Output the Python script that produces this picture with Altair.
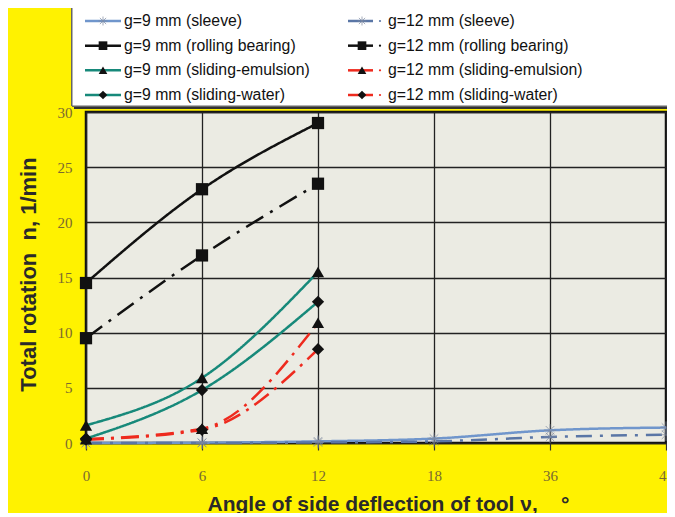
import altair as alt
import pandas as pd

# ---------------- data ----------------
angles = ["0", "6", "12", "18", "36", "45"]

series_names = [
    "g=9 mm (sleeve)", "g=12 mm (sleeve)",
    "g=9 mm (rolling bearing)", "g=12 mm (rolling bearing)",
    "g=9 mm (sliding-emulsion)", "g=12 mm (sliding-emulsion)",
    "g=9 mm (sliding-water)", "g=12 mm (sliding-water)",
]

sleeve_9 = [0.0, 0.03, 0.15, 0.4, 1.15, 1.4]
sleeve_12 = [0.0, 0.0, 0.05, 0.15, 0.55, 0.75]
rolling_9 = [14.5, 23.0, 29.0]
rolling_12 = [9.5, 17.0, 23.5]
emulsion_9 = [1.6, 5.9, 15.5]
emulsion_12 = [0.35, 1.3, 10.9]
water_9 = [0.4, 4.8, 12.8]
water_12 = [0.3, 1.2, 8.5]

values = [sleeve_9, sleeve_12, rolling_9, rolling_12,
          emulsion_9, emulsion_12, water_9, water_12]

rows = []
for name, vals in zip(series_names, values):
    for i, v in enumerate(vals):
        rows.append({"series": name, "angle": angles[i], "idx": i, "value": v})
df = pd.DataFrame(rows)

leg_df = pd.DataFrame({
    "series": series_names,
    "col": [i % 2 for i in range(len(series_names))],
    "row": [i // 2 for i in range(len(series_names))],
})

# ---------------- styles ----------------
BLUE9 = "#7096cc"
BLUE12 = "#5a76a6"
BLACK = "#111111"
TEAL = "#17897a"
RED = "#ee2a1e"
colors = [BLUE9, BLUE12, BLACK, BLACK, TEAL, RED, TEAL, RED]
SOLID = [1, 0]
dashes = [SOLID, [16, 8, 3, 8], SOLID, [20, 8, 3, 8],
          SOLID, [18, 7, 3, 7], SOLID, [18, 7, 3, 7]]
widths = [2.5, 2.5, 2, 2, 3, 3.2, 3, 3.2]
ASTER = "M-1,0L1,0M0,-1L0,1M-0.7,-0.7L0.7,0.7M-0.7,0.7L0.7,-0.7"
shapes = [ASTER, ASTER, "square", "square", "triangle-up", "triangle-up", "diamond", "diamond"]
sizes = [150, 150, 200, 200, 140, 140, 120, 120]

color_scale = alt.Scale(domain=series_names, range=colors)
dash_scale = alt.Scale(domain=series_names, range=dashes)
width_scale = alt.Scale(domain=series_names, range=widths)
shape_scale = alt.Scale(domain=series_names, range=shapes)
size_scale = alt.Scale(domain=series_names, range=sizes)

sleeves = series_names[:2]

# ---------------- main plot ----------------
X = alt.X("angle:O", sort=angles, scale=alt.Scale(type="point", padding=0),
          axis=alt.Axis(title="Angle of side deflection of tool ν,\u00a0\u00a0\u00a0\u00a0°",
                        labelAngle=0, grid=True, domain=False,
                        tickSize=7, labelPadding=18, titlePadding=10,
                        titleFontSize=21, titleX=302))
Y = alt.Y("value:Q", scale=alt.Scale(domain=[0, 30], nice=False, zero=True),
          axis=alt.Axis(title="Total rotation\u00a0\u00a0n, 1/min", values=[0, 5, 10, 15, 20, 25, 30],
                        grid=True, domain=False, tickSize=0, labelPadding=14,
                        titlePadding=17, titleFontSize=22, titleY=162))

base = alt.Chart(df)

lines = base.mark_line(interpolate="monotone").encode(
    x=X, y=Y,
    color=alt.Color("series:N", scale=color_scale, legend=None),
    strokeDash=alt.StrokeDash("series:N", scale=dash_scale, legend=None),
    strokeWidth=alt.StrokeWidth("series:N", scale=width_scale, legend=None),
    order="idx:Q",
)

sleeve_pts = base.transform_filter(
    alt.FieldOneOfPredicate(field="series", oneOf=sleeves)
).mark_point(filled=False, strokeWidth=1, color="#7f8aa0").encode(
    x=X, y=Y,
    shape=alt.Shape("series:N", scale=shape_scale, legend=None),
    size=alt.Size("series:N", scale=size_scale, legend=None),
)

marker_pts = base.transform_filter(
    ~alt.FieldOneOfPredicate(field="series", oneOf=sleeves)
).mark_point(filled=True, opacity=1, color=BLACK).encode(
    x=X, y=Y,
    shape=alt.Shape("series:N", scale=shape_scale, legend=None),
    size=alt.Size("series:N", scale=size_scale, legend=None),
)

main = alt.layer(lines, sleeve_pts, marker_pts)

# ---------------- custom legend ----------------
LX = alt.X("col:Q", scale=alt.Scale(domain=[0, 1], range=[17, 276]), axis=None)
LY = alt.Y("row:Q", scale=alt.Scale(domain=[0, 3], range=[-91, -17]), axis=None)

lbase = alt.Chart(leg_df)

shadow = lbase.mark_rect(fill="#333333").encode(
    x=alt.value(-12), x2=alt.value(640), y=alt.value(-103), y2=alt.value(-3))
box = lbase.mark_rect(fill="white", stroke="#666666", strokeWidth=1).encode(
    x=alt.value(-14), x2=alt.value(640), y=alt.value(-105), y2=alt.value(-6))

leg_layers = [shadow, box]
offs = {0: (-18, 18, 21), 1: (-14, 11, 26)}
for c in (0, 1):
    x0, x1, tdx = offs[c]
    sub = lbase.transform_filter(alt.datum.col == c)
    leg_layers.append(sub.mark_rule(xOffset=x0, x2Offset=x1, strokeWidth=2.5).encode(
        x=LX, x2=alt.X2("col:Q"), y=LY,
        color=alt.Color("series:N", scale=color_scale, legend=None)))
    leg_layers.append(sub.transform_filter(
        alt.FieldOneOfPredicate(field="series", oneOf=sleeves)
    ).mark_point(filled=False, strokeWidth=1, color="#7f8aa0", size=80).encode(
        x=LX, y=LY, shape=alt.Shape("series:N", scale=shape_scale, legend=None)))
    leg_layers.append(sub.transform_filter(
        ~alt.FieldOneOfPredicate(field="series", oneOf=sleeves)
    ).mark_point(filled=True, opacity=1, color=BLACK, size=75).encode(
        x=LX, y=LY, shape=alt.Shape("series:N", scale=shape_scale, legend=None)))
    if c == 1:
        leg_layers.append(sub.mark_circle(size=5, opacity=1, xOffset=18).encode(
            x=LX, y=LY, color=alt.Color("series:N", scale=color_scale, legend=None)))
    leg_layers.append(sub.mark_text(align="left", baseline="middle", dx=tdx,
                                    font="Liberation Sans", fontSize=15.8,
                                    color="#111111").encode(
        x=LX, y=LY, text="series:N"))

legend = alt.layer(*leg_layers)

chart = alt.layer(main, legend).resolve_scale(
    x="independent", y="independent"
).properties(
    width=580, height=331,
    autosize=alt.AutoSizeParams(type="none"),
    padding={"left": 78, "top": 104, "right": 1, "bottom": 70},
    background="#fff200",
).configure_view(
    fill="#ebebe3", stroke="#111111", strokeWidth=2.5,
).configure_axis(
    gridColor="#222222", gridWidth=1.3, gridOpacity=1,
    tickColor="#333333", tickWidth=1.2,
    labelFont="Liberation Serif", labelFontSize=15, labelColor="#7a6a30",
    titleFont="Liberation Sans", titleFontWeight="bold",
    titleColor="#2a2a2a",
)

chart.save("out.html", embed_options={"renderer": "svg", "actions": False})
